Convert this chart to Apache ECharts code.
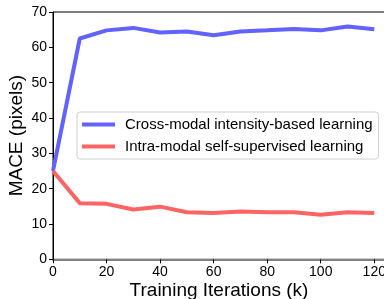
<!DOCTYPE html>
<html><head><meta charset="utf-8">
<script src="https://cdn.jsdelivr.net/npm/echarts@6/dist/echarts.min.js"></script>
<style>html,body{margin:0;padding:0;background:#fff}#c{width:384px;height:299px}</style>
</head><body><div id="c"></div>
<script>
const iterations = [0,10,20,30,40,50,60,70,80,90,100,110,120];
const crossModal = [25.0,62.5,64.8,65.5,64.2,64.5,63.4,64.5,64.8,65.2,64.8,65.9,65.1];
const intraModal = [25.0,15.9,15.7,14.1,14.9,13.3,13.1,13.5,13.3,13.3,12.6,13.3,13.1];
const xTicks = [0,20,40,60,80,100,120];
const yTicks = [0,10,20,30,40,50,60,70];
const names = ['Cross-modal intensity-based learning','Intra-modal self-supervised learning'];
const font = 'Liberation Sans, Arial, sans-serif';
const chart = echarts.init(document.getElementById('c'));
chart.setOption({
  animation:false,
  grid:{left:53,top:12,width:332,height:247.3,outerBoundsMode:'none',containLabel:false,show:true,borderColor:'#000',borderWidth:1,backgroundColor:'transparent'},
  legend:{
    left:77,top:112,orient:'vertical',itemGap:7,
    itemWidth:33,itemHeight:4,icon:'rect',
    backgroundColor:'rgba(255,255,255,0.8)',borderColor:'#d0d0d0',borderWidth:1,borderRadius:3,
    padding:[5,6,5,5],
    textStyle:{fontFamily:font,fontSize:15,color:'#000',padding:[0,0,0,5]},
    data:names
  },
  xAxis:{
    type:'value',min:0,max:124,
    name:'Training Iterations (k)',nameLocation:'middle',nameGap:31,
    nameTextStyle:{fontFamily:font,fontSize:19,color:'#000',verticalAlign:'middle'},
    nameMoveOverlap:false,
    axisLine:{show:true,lineStyle:{color:'#808080',width:2}},
    axisTick:{show:true,customValues:xTicks,length:4,lineStyle:{color:'#000'}},
    axisLabel:{customValues:xTicks,fontFamily:font,fontSize:14,color:'#000',margin:6},
    splitLine:{show:false}
  },
  yAxis:{
    type:'value',min:0,max:70,
    name:'MACE (pixels)',nameLocation:'middle',nameGap:36,
    nameTextStyle:{fontFamily:font,fontSize:19,color:'#000',verticalAlign:'middle'},
    nameMoveOverlap:false,
    axisLine:{show:true,lineStyle:{color:'#000',width:1}},
    axisTick:{show:true,customValues:yTicks,length:4,lineStyle:{color:'#000'}},
    axisLabel:{customValues:yTicks,fontFamily:font,fontSize:14,color:'#000',margin:6},
    splitLine:{show:false}
  },
  series:[
    {name:names[0],type:'line',data:iterations.map((x,i)=>[x,crossModal[i]]),showSymbol:false,
     lineStyle:{color:'#6262ff',width:4},itemStyle:{color:'#6262ff'}},
    {name:names[1],type:'line',data:iterations.map((x,i)=>[x,intraModal[i]]),showSymbol:false,
     lineStyle:{color:'#ff6464',width:4},itemStyle:{color:'#ff6464'}}
  ]
});
</script></body></html>
